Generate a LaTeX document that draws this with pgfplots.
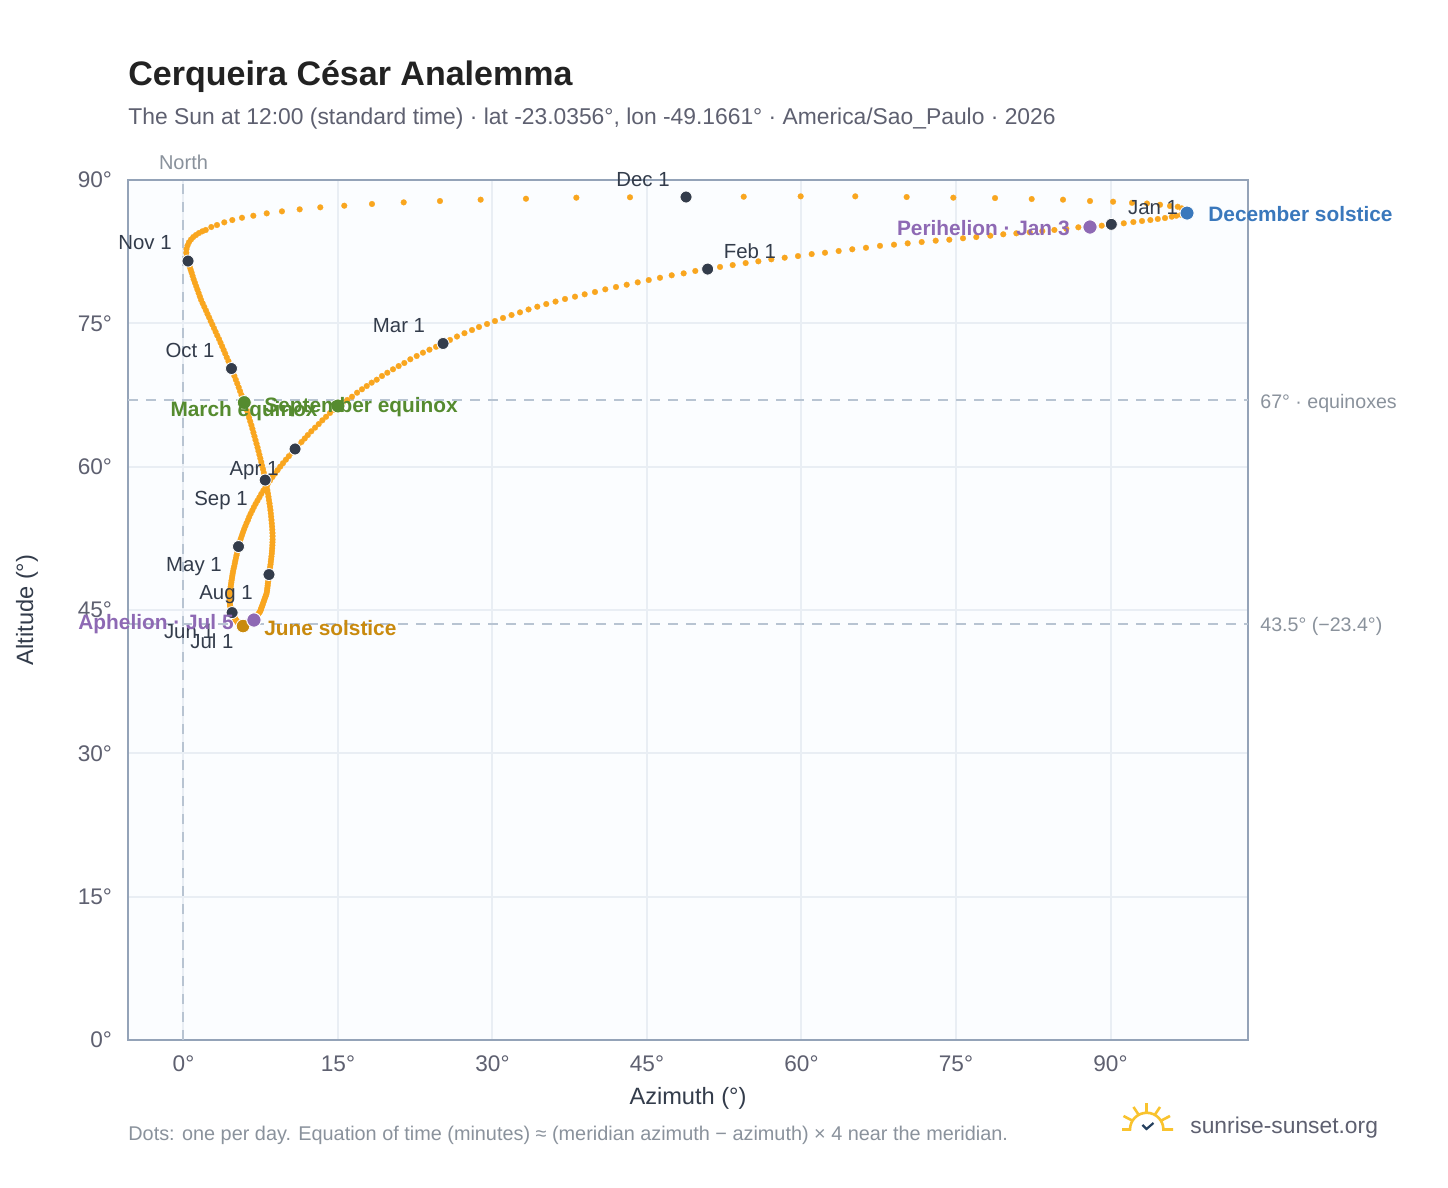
\documentclass[border=0pt]{standalone}
\usepackage{fontspec}
\setmainfont{Liberation Sans}
\usepackage{pgfplots}
\usepackage{pgfplotstable}
\pgfplotsset{compat=1.18}
\definecolor{bgc}{HTML}{FBFDFF}
\definecolor{bord}{HTML}{94A3B8}
\definecolor{gridc}{HTML}{E9EEF4}
\definecolor{dashc}{HTML}{B8C4D2}
\definecolor{dotc}{HTML}{F9A61F}
\definecolor{blk}{HTML}{333C4B}
\definecolor{tickc}{HTML}{5E6070}
\definecolor{footc}{HTML}{8A929C}
\definecolor{grn}{HTML}{558B2F}
\definecolor{blu}{HTML}{3A78BC}
\definecolor{pur}{HTML}{8E69B4}
\definecolor{gld}{HTML}{C98A0E}
\definecolor{sun}{HTML}{F9C32E}
\definecolor{chk}{HTML}{25405F}
\pgfplotstableread[row sep=\\]{
az alt\\
90.08 85.36\\ 89.15 85.22\\ 88.01 85.08\\ 86.88 85.05\\ 85.71 84.90\\ 84.55 84.77\\ 83.38 84.66\\ 82.16 84.53\\ 80.86 84.42\\ 79.59 84.32\\
78.33 84.17\\ 76.97 84.03\\ 75.68 83.90\\ 74.35 83.75\\ 73.03 83.65\\ 71.67 83.51\\ 70.31 83.37\\ 68.98 83.23\\ 67.62 83.11\\ 66.26 82.91\\
64.93 82.75\\ 63.61 82.57\\ 62.28 82.39\\ 60.99 82.25\\ 59.66 82.04\\ 58.37 81.87\\ 57.07 81.70\\ 55.81 81.49\\ 54.58 81.31\\ 53.32 81.10\\ 52.09 80.90\\
50.89 80.68\\ 49.69 80.48\\ 48.56 80.23\\ 47.40 80.03\\ 46.26 79.77\\ 45.17 79.53\\ 44.10 79.29\\ 43.03 79.04\\ 41.99 78.80\\ 40.95 78.56\\
39.95 78.28\\ 38.95 78.04\\ 38.01 77.79\\ 37.04 77.55\\ 36.12 77.28\\ 35.22 77.02\\ 34.35 76.74\\ 33.50 76.45\\ 32.67 76.15\\ 31.85 75.87\\
31.02 75.56\\ 30.24 75.24\\ 29.47 74.93\\ 28.69 74.62\\ 28.01 74.30\\ 27.28 73.97\\ 26.55 73.62\\ 25.87 73.26\\
25.20 72.89\\ 24.52 72.55\\ 23.88 72.24\\ 23.25 71.93\\ 22.64 71.58\\ 22.02 71.24\\ 21.44 70.85\\ 20.89 70.53\\ 20.34 70.19\\ 19.79 69.83\\
19.27 69.49\\ 18.76 69.10\\ 18.27 68.79\\ 17.79 68.44\\ 17.33 68.10\\ 16.85 67.74\\ 16.36 67.32\\ 15.90 66.98\\ 15.46 66.66\\ 15.00 66.35\\
14.61 65.96\\ 14.22 65.62\\ 13.84 65.22\\ 13.48 64.85\\ 13.13 64.46\\ 12.77 64.08\\ 12.41 63.70\\ 12.07 63.31\\ 11.77 62.95\\ 11.46 62.58\\ 11.14 62.19\\
10.83 61.85\\ 10.52 61.47\\ 10.23 61.10\\ 9.94 60.73\\ 9.66 60.36\\ 9.39 60.00\\ 9.13 59.63\\ 8.88 59.27\\ 8.63 58.91\\ 8.40 58.55\\
8.17 58.19\\ 7.96 57.84\\ 7.75 57.49\\ 7.55 57.14\\ 7.37 56.79\\ 7.18 56.44\\ 7.00 56.10\\ 6.83 55.76\\ 6.68 55.42\\ 6.52 55.08\\
6.38 54.75\\ 6.26 54.42\\ 6.12 54.09\\ 6.00 53.76\\ 5.88 53.44\\ 5.77 53.12\\ 5.67 52.80\\ 5.57 52.49\\ 5.48 52.18\\ 5.41 51.91\\
5.34 51.64\\ 5.27 51.33\\ 5.21 51.03\\ 5.15 50.73\\ 5.09 50.44\\ 5.03 50.15\\ 4.98 49.87\\ 4.93 49.60\\ 4.87 49.34\\ 4.82 49.08\\
4.78 48.83\\ 4.74 48.58\\ 4.71 48.34\\ 4.67 48.10\\ 4.64 47.87\\ 4.61 47.65\\ 4.58 47.43\\ 4.56 47.22\\ 4.53 47.01\\ 4.51 46.81\\
4.50 46.61\\ 4.49 46.42\\ 4.48 46.24\\ 4.48 46.06\\ 4.49 45.89\\ 4.50 45.72\\ 4.52 45.50\\ 4.55 45.34\\ 4.59 45.18\\ 4.63 45.03\\ 4.68 44.88\\
4.72 44.73\\ 4.77 44.61\\ 4.82 44.49\\ 4.87 44.38\\ 4.92 44.27\\ 4.97 44.17\\ 5.03 44.07\\ 5.08 43.98\\ 5.13 43.89\\ 5.19 43.81\\
5.24 43.74\\ 5.29 43.67\\ 5.35 43.60\\ 5.40 43.54\\ 5.46 43.49\\ 5.51 43.44\\ 5.56 43.40\\ 5.62 43.37\\ 5.67 43.35\\ 5.73 43.33\\
5.78 43.32\\ 5.87 43.36\\ 5.96 43.40\\ 6.05 43.45\\ 6.14 43.50\\ 6.23 43.55\\ 6.32 43.60\\ 6.41 43.66\\ 6.50 43.72\\ 6.59 43.78\\
6.68 43.84\\ 6.72 43.87\\ 6.76 43.90\\ 6.80 43.92\\ 6.84 43.95\\ 6.90 44.04\\ 6.97 44.14\\ 7.04 44.25\\ 7.12 44.36\\ 7.20 44.48\\
7.28 44.60\\ 7.37 44.73\\ 7.45 44.87\\ 7.50 45.01\\ 7.54 45.15\\ 7.59 45.30\\ 7.65 45.46\\ 7.70 45.62\\ 7.77 45.83\\ 7.83 46.02\\
7.90 46.22\\ 7.97 46.43\\ 8.04 46.64\\ 8.09 46.86\\ 8.12 47.08\\ 8.14 47.30\\ 8.17 47.53\\ 8.19 47.76\\ 8.22 47.99\\ 8.25 48.23\\ 8.27 48.47\\
8.30 48.71\\ 8.34 48.97\\ 8.38 49.23\\ 8.41 49.50\\ 8.45 49.77\\ 8.48 50.05\\ 8.51 50.33\\ 8.54 50.61\\ 8.57 50.90\\ 8.59 51.19\\
8.61 51.48\\ 8.63 51.78\\ 8.64 52.08\\ 8.65 52.38\\ 8.65 52.72\\ 8.64 53.06\\ 8.62 53.40\\ 8.60 53.74\\ 8.57 54.08\\ 8.54 54.42\\
8.51 54.76\\ 8.48 55.10\\ 8.44 55.45\\ 8.40 55.80\\ 8.35 56.15\\ 8.30 56.50\\ 8.25 56.85\\ 8.20 57.20\\ 8.14 57.55\\ 8.08 57.90\\ 8.01 58.25\\
7.93 58.60\\ 7.87 58.97\\ 7.80 59.35\\ 7.72 59.73\\ 7.63 60.11\\ 7.55 60.49\\ 7.46 60.87\\ 7.37 61.25\\ 7.28 61.63\\ 7.19 62.01\\
7.09 62.40\\ 6.99 62.79\\ 6.89 63.18\\ 6.79 63.57\\ 6.69 63.96\\ 6.59 64.35\\ 6.48 64.74\\ 6.37 65.13\\ 6.26 65.52\\ 6.15 65.91\\
6.03 66.30\\ 5.90 66.71\\ 5.77 67.10\\ 5.63 67.50\\ 5.49 67.90\\ 5.36 68.30\\ 5.22 68.70\\ 5.08 69.10\\ 4.94 69.49\\ 4.80 69.88\\
4.66 70.27\\ 4.51 70.66\\ 4.36 71.05\\ 4.20 71.44\\ 4.05 71.83\\ 3.90 72.21\\ 3.75 72.59\\ 3.60 72.97\\ 3.45 73.35\\ 3.28 73.73\\
3.12 74.11\\ 2.96 74.49\\ 2.80 74.87\\ 2.64 75.24\\ 2.49 75.61\\ 2.33 75.98\\ 2.18 76.35\\ 2.02 76.72\\ 1.86 77.09\\ 1.71 77.45\\
1.59 77.81\\ 1.47 78.17\\ 1.35 78.53\\ 1.23 78.89\\ 1.11 79.25\\ 0.99 79.60\\ 0.89 79.95\\ 0.79 80.30\\ 0.70 80.60\\ 0.61 80.91\\ 0.52 81.22\\
0.44 81.52\\ 0.32 81.99\\ 0.27 82.39\\ 0.29 82.78\\ 0.39 83.14\\ 0.53 83.48\\ 0.73 83.77\\ 0.95 84.03\\ 1.21 84.24\\ 1.50 84.45\\
1.83 84.63\\ 2.16 84.77\\ 2.70 85.08\\ 3.25 85.29\\ 3.96 85.57\\ 4.74 85.81\\ 5.68 86.05\\ 6.78 86.26\\ 8.08 86.51\\ 9.56 86.72\\
11.28 86.93\\ 13.28 87.14\\ 15.61 87.31\\ 18.30 87.49\\ 21.38 87.66\\ 24.90 87.80\\ 28.85 87.94\\ 33.25 88.04\\ 38.14 88.15\\ 43.35 88.19\\
48.79 88.22\\ 54.39 88.25\\ 59.92 88.29\\ 65.22 88.29\\ 70.21 88.22\\ 74.74 88.15\\ 78.79 88.11\\ 82.35 88.01\\ 85.39 87.94\\ 88.01 87.80\\
90.25 87.73\\ 92.09 87.61\\ 93.54 87.54\\ 94.81 87.41\\ 95.78 87.28\\ 96.53 87.20\\ 96.92 87.03\\ 97.19 86.88\\ 97.33 86.75\\ 97.43 86.65\\
97.43 86.54\\ 97.24 86.44\\ 96.85 86.36\\ 96.39 86.26\\ 95.95 86.16\\ 95.29 86.02\\ 94.59 85.92\\ 93.87 85.81\\ 93.06 85.71\\ 92.22 85.60\\ 91.29 85.47\\
}\analemma
\newcommand{\T}[5][]{\node[inner sep=0pt,anchor=#2,#1] at (#3*0.5pt,{(1188-#4-1.5)*0.5pt}) {#5};}
\newcommand{\M}[3]{\T{base}{#1}{#2}{\fontsize{10.2}{12}\selectfont\color{blk}#3}}
\newcommand{\B}[5]{\T{#1}{#2}{#3}{\fontsize{10.42}{12}\selectfont\bfseries\color{#4}#5}}
\begin{document}
\begin{tikzpicture}[x=1pt,y=1pt]
\path[use as bounding box,fill=white] (0,0) rectangle (724pt,594pt);
\begin{axis}[
  at={(64pt,74pt)},anchor=south west,
  scale only axis,width=560pt,height=430pt,
  clip=false,
  xmin=-5.388,xmax=103.35,ymin=0,ymax=90,
  xtick={0,15,30,45,60,75,90},
  xticklabels={0°,15°,30°,45°,60°,75°,90°},
  ytick={0,15,30,45,60,75,90},
  yticklabels={0°,15°,30°,45°,60°,75°,90°},
  major tick length=0pt,
  tick label style={font=\fontsize{11.3}{13}\selectfont,text=tickc},
  xticklabel style={yshift=-4.5pt},
  yticklabel style={xshift=-4.5pt},
  grid=major,
  major grid style={draw=gridc,line width=1pt},
  axis background/.style={fill=bgc},
  axis line style={draw=bord,line width=1pt},
  xlabel={Azimuth (°)},
  ylabel={Altitude (°)},
  label style={font=\fontsize{11.8}{14}\selectfont,text=blk},
  xlabel style={yshift=-1pt},
  ylabel style={yshift=13pt},
]
\addplot[draw=dashc,line width=1pt,dash pattern=on 5pt off 4pt] coordinates {(-5.388,67) (103.35,67)};
\addplot[draw=dashc,line width=1pt,dash pattern=on 5pt off 4pt] coordinates {(-5.388,43.5) (103.35,43.5)};
\addplot[draw=dashc,line width=1pt,dash pattern=on 5pt off 4pt] coordinates {(0,0) (0,90)};
\addplot[only marks,color=dotc,mark=*,mark size=1.45pt,mark options={solid,draw=dotc,fill=dotc,line width=0.1pt}] table[x=az,y=alt] {\analemma};
\addplot[only marks,color=blk,mark=*,mark size=3pt,mark options={draw=white,line width=0.4pt,fill=blk}] coordinates {
(90.08,85.36) (50.89,80.68) (25.20,72.89) (10.83,61.85) (5.34,51.64) (4.72,44.73) (6.68,43.84) (8.30,48.71) (7.93,58.60) (4.66,70.27) (0.44,81.52) (48.79,88.22)};
\addplot[only marks,color=grn,mark=*,mark size=3.5pt,mark options={draw=white,line width=0.4pt,fill=grn}] coordinates {(15.00,66.35) (5.90,66.71)};
\addplot[only marks,color=gld,mark=*,mark size=3.4pt,mark options={draw=white,line width=0.4pt,fill=gld}] coordinates {(5.78,43.32)};
\addplot[only marks,color=blu,mark=*,mark size=3.5pt,mark options={draw=white,line width=0.4pt,fill=blu}] coordinates {(97.43,86.54)};
\addplot[only marks,color=pur,mark=*,mark size=3.6pt,mark options={draw=white,line width=0.5pt,fill=pur}] coordinates {(88.01,85.08) (6.84,43.95)};
\end{axis}
\M{643}{185}{Dec 1}
\M{1153}{213}{Jan 1}
\M{750}{257}{Feb 1}
\M{399}{331}{Mar 1}
\M{145}{248}{Nov 1}
\M{190}{356}{Oct 1}
\M{254}{474}{Apr 1}
\M{221}{504}{Sep 1}
\M{194}{570}{May 1}
\M{226}{598}{Aug 1}
\M{189}{637}{Jun 1}
\M{212}{647}{Jul 1}
\B{base east}{234}{628}{pur}{Aphelion · Jul 5}
\B{base west}{264}{634}{gld}{June solstice}
\B{base east}{318}{415}{grn}{March equinox}
\B{base west}{264}{411}{grn}{September equinox}
\B{base east}{1070}{234}{pur}{Perihelion · Jan 3}
\B{base west}{1208}{220}{blu}{December solstice}
\T{base west}{1260}{407}{\fontsize{9.8}{12}\selectfont\color{footc}67° · equinoxes}
\T{base west}{1260}{630}{\fontsize{9.8}{12}\selectfont\color{footc}43.5° (−23.4°)}
\T{base}{183.5}{168}{\fontsize{10}{12}\selectfont\color{footc}North}
\T{base west}{128}{84}{\fontsize{17}{20}\selectfont\bfseries\color[HTML]{222222}Cerqueira César Analemma}
\T{base west}{128}{123.5}{\fontsize{11.42}{13}\selectfont\color{tickc}The Sun at 12:00 (standard time) · lat -23.0356°, lon -49.1661° · America/Sao\_Paulo · 2026}
\T{base west}{128}{1139}{\fontsize{9.93}{12}\selectfont\color{footc}Dots: one per day. Equation of time (minutes) ≈ (meridian azimuth − azimuth) × 4 near the meridian.}
\T{base west}{1190}{1132}{\fontsize{11.4}{13}\selectfont\color{tickc}sunrise-sunset.org}
% logo
\begin{scope}[x=0.5pt,y=-0.5pt,yshift=594pt,line width=1.3pt,line cap=butt]
\draw[sun] (1122,1129.5) -- (1130,1129.5) arc[start angle=180,end angle=360,radius=16.7] -- (1173,1129.5);
\draw[sun] (1146.7,1103.5) -- (1146.7,1112);
\draw[sun] (1133.5,1107) -- (1138.5,1114.5);
\draw[sun] (1160,1107) -- (1155,1114.5);
\draw[sun] (1123.5,1116) -- (1133,1121);
\draw[sun] (1170,1116) -- (1160.5,1121);
\draw[chk,line width=1.1pt] (1142.5,1125) -- (1146.5,1129) -- (1153.5,1123);
\end{scope}
\end{tikzpicture}
\end{document}
